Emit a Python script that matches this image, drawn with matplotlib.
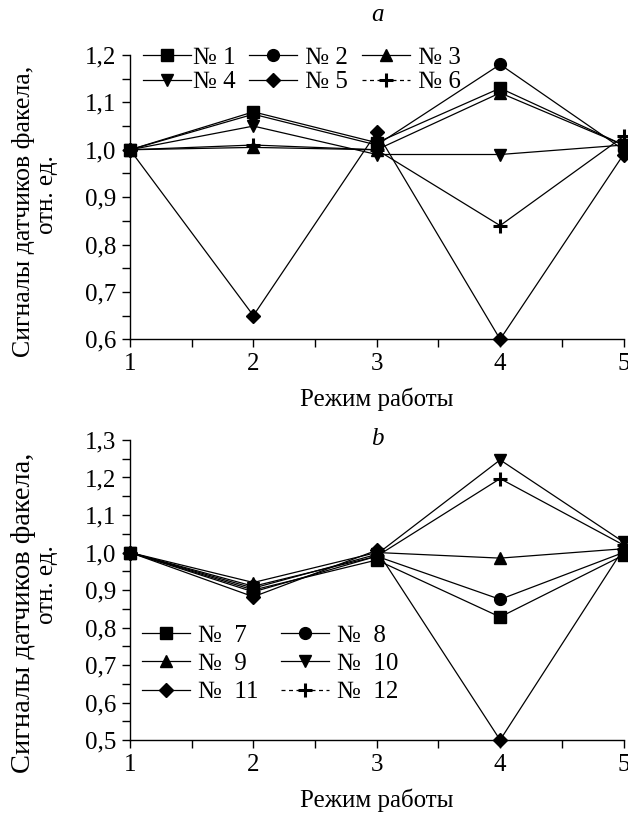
import matplotlib
matplotlib.use("Agg")
import matplotlib.pyplot as plt
from matplotlib.lines import Line2D
from matplotlib.ticker import MultipleLocator, FuncFormatter

plt.rcParams['font.family'] = ['Liberation Serif', 'DejaVu Serif']

modes = [1, 2, 3, 4, 5]

# Panel a
a_labels = ["№ 1", " № 2", " № 3", "№ 4", " № 5", " № 6"]
s1 = [1.00, 1.08, 1.015, 1.13, 1.01]
s2 = [1.00, 1.075, 1.01, 1.18, 1.00]
s3 = [1.00, 1.005, 1.00, 1.12, 1.01]
s4 = [1.00, 1.05, 0.99, 0.99, 1.01]
s5 = [1.00, 0.65, 1.037, 0.60, 0.99]
s6 = [1.00, 1.01, 1.00, 0.84, 1.028]
a_series = [s1, s2, s3, s4, s5, s6]

# Panel b
b_labels = ["№  7", "№  8", "№  9", "№  10", "№  11", "№  12"]
s7 = [1.00, 0.90, 0.98, 0.828, 0.993]
s8 = [1.00, 0.91, 0.99, 0.875, 1.00]
s9 = [1.00, 0.92, 1.00, 0.985, 1.01]
s10 = [1.00, 0.905, 0.995, 1.247, 1.028]
s11 = [1.00, 0.882, 1.006, 0.50, 1.01]
s12 = [1.00, 0.895, 0.99, 1.197, 1.02]
b_series = [s7, s8, s9, s10, s11, s12]

markers = ['s', 'o', '^', 'v', 'D', '+']
msizes = [8.5, 8.5, 9, 9, 7.5, 10]

W, H = 628, 814
fig = plt.figure(figsize=(W / 100, H / 100), dpi=100)
ax1 = fig.add_axes([130 / W, 1 - 339.3 / H, 493.5 / W, 284.3 / H])
ax2 = fig.add_axes([130 / W, 1 - 740 / H, 493.5 / W, 300 / H])

comma = FuncFormatter(lambda v, p: f"{v:.1f}".replace('.', ','))
FS = 18

def style(ax, ylo, yhi):
    for sp in ['top', 'right']:
        ax.spines[sp].set_visible(False)
    for sp in ['left', 'bottom']:
        ax.spines[sp].set_linewidth(1.0)
    ax.set_xlim(1, 5)
    ax.set_ylim(ylo, yhi)
    ax.xaxis.set_major_locator(MultipleLocator(1))
    ax.xaxis.set_minor_locator(MultipleLocator(0.5))
    ax.yaxis.set_major_locator(MultipleLocator(0.1))
    ax.yaxis.set_minor_locator(MultipleLocator(0.05))
    ax.yaxis.set_major_formatter(comma)
    ax.tick_params(which='both', direction='out', labelsize=FS, width=1.0, pad=4)
    ax.tick_params(which='major', length=6)
    ax.tick_params(which='minor', length=6)
    ax.set_xlabel("Режим работы", fontsize=FS, labelpad=9)

def draw(ax, series, labels):
    handles = []
    for i, (ys, lab) in enumerate(zip(series, labels)):
        mew = 2.2 if markers[i] == '+' else 1.0
        ax.plot(modes, ys, color='black', lw=0.9, marker=markers[i],
                ms=msizes[i], mew=mew, mfc='black', mec='black', clip_on=False, zorder=3)
        ls = (0, (3.2, 2.8)) if markers[i] == '+' else '-'
        handles.append(Line2D([], [], color='black', lw=0.9, ls=ls, marker=markers[i],
                              ms=msizes[i], mew=mew, mfc='black', mec='black', label=lab))
    return handles

style(ax1, 0.6, 1.2)
h1 = draw(ax1, a_series, a_labels)
order1 = [0, 3, 1, 4, 2, 5]
ax1.legend([h1[i] for i in order1], [a_labels[i] for i in order1], ncol=3, frameon=False,
           fontsize=FS, loc='upper left', bbox_to_anchor=(143 / W, 1 - 46 / H),
           bbox_transform=fig.transFigure, handlelength=1.9, borderpad=0,
           handletextpad=0.1, columnspacing=0.55, labelspacing=0.1, borderaxespad=0)

style(ax2, 0.5, 1.3)
h2 = draw(ax2, b_series, b_labels)
order2 = [0, 2, 4, 1, 3, 5]
ax2.legend([h2[i] for i in order2], [b_labels[i] for i in order2], ncol=2, frameon=False,
           fontsize=FS, loc='upper left', bbox_to_anchor=(142 / W, 1 - 624 / H),
           bbox_transform=fig.transFigure, handlelength=1.92, borderpad=0,
           handletextpad=0.32, columnspacing=0.9, labelspacing=0.24, borderaxespad=0)

# y labels (two lines placed individually)
fig.text(24 / W, 1 - 211 / H, "Сигналы датчиков факела,", fontsize=18.6, rotation=90,
         ha='center', va='center')
fig.text(47 / W, 1 - 195 / H, "отн. ед.", fontsize=FS, rotation=90,
         ha='center', va='center')
fig.text(24 / W, 1 - 613 / H, "Сигналы датчиков факела,", fontsize=20.5, rotation=90,
         ha='center', va='center')
fig.text(47 / W, 1 - 585 / H, "отн. ед.", fontsize=FS, rotation=90,
         ha='center', va='center')

fig.text(377 / W, 1 - 15 / H, "a", fontsize=FS, style='italic', ha='center', va='center')
fig.text(377 / W, 1 - 439 / H, "b", fontsize=FS, style='italic', ha='center', va='center')

fig.savefig("out.png", dpi=100)
